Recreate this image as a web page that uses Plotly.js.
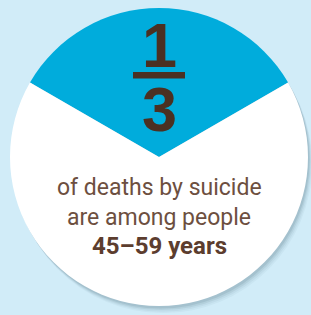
<!DOCTYPE html>
<html>
<head>
<meta charset="utf-8">
<script src="https://cdn.plot.ly/plotly-3.0.1.min.js"></script>
<style>html,body{margin:0;padding:0;background:#d1ecf8;}#chart{width:311px;height:315px;}</style>
</head>
<body>
<div id="chart"></div>
<script>
// Data
var sliceLabels = ["45–59 years", "Other ages"];
var sliceValues = [1, 2];
var sliceColors = ["#00acdc", "#ffffff"];
var captionLines = ["of deaths by suicide", "are among people"];
var captionBold = "45–59 years";

var total = sliceValues.reduce(function(a, b){ return a + b; }, 0);
var numerator = String(sliceValues[0]);
var denominator = String(total / sliceValues[0]);

var W = 311, H = 315;
var cx = 159, cy = 157, R = 149;
function px(x){ return x / W; }
function py(y){ return 1 - y / H; }

var shadows = [];
var shadowSteps = [[7, 0.06], [5.5, 0.08], [4, 0.12], [2.5, 0.16]];
shadowSteps.forEach(function(s){
  var o = s[0];
  shadows.push({
    type: "circle", xref: "paper", yref: "paper", layer: "below",
    x0: px(cx - R + o * 0.6), x1: px(cx + R + o * 0.6),
    y0: py(cy + R + o), y1: py(cy - R + o),
    fillcolor: "rgba(90,120,135," + s[1] + ")", line: {width: 0}
  });
});

var trace = {
  type: "pie",
  labels: sliceLabels,
  values: sliceValues,
  sort: false,
  direction: "clockwise",
  rotation: -180 * sliceValues[0] / total,
  marker: {colors: sliceColors, line: {width: 0}},
  textinfo: "none",
  hoverinfo: "skip",
  showlegend: false,
  domain: {x: [px(cx - R), px(cx + R)], y: [py(cy + R), py(cy - R)]}
};

var fracFont = {family: "Liberation Sans, Arial, sans-serif", size: 63, color: "#4b3022"};
var capFont = {family: "Roboto, sans-serif", size: 23, color: "#6d4f40"};

var layout = {
  width: W, height: H,
  margin: {l: 0, r: 0, t: 0, b: 0},
  paper_bgcolor: "#d1ecf8",
  plot_bgcolor: "#d1ecf8",
  showlegend: false,
  shapes: shadows.concat([
    {type: "rect", xref: "paper", yref: "paper", layer: "above",
     x0: px(133), x1: px(185), y0: py(78.5), y1: py(72),
     fillcolor: "#4b3022", line: {width: 0}}
  ]),
  annotations: [
    {text: "<b>" + numerator + "</b>", xref: "paper", yref: "paper", x: px(159), y: py(45),
     xanchor: "center", yanchor: "middle", showarrow: false, font: fracFont},
    {text: "<b>" + denominator + "</b>", xref: "paper", yref: "paper", x: px(159), y: py(109),
     xanchor: "center", yanchor: "middle", showarrow: false, font: fracFont},
    {text: captionLines[0], xref: "paper", yref: "paper", x: px(159), y: py(187),
     xanchor: "center", yanchor: "middle", showarrow: false, font: capFont},
    {text: captionLines[1], xref: "paper", yref: "paper", x: px(159), y: py(217),
     xanchor: "center", yanchor: "middle", showarrow: false, font: capFont},
    {text: "<b>" + captionBold + "</b>", xref: "paper", yref: "paper", x: px(159), y: py(246),
     xanchor: "center", yanchor: "middle", showarrow: false,
     font: {family: "Roboto, sans-serif", size: 24, color: "#5c3d2e"}}
  ]
};

Plotly.newPlot("chart", [trace], layout, {displayModeBar: false, staticPlot: true});
</script>
</body>
</html>
